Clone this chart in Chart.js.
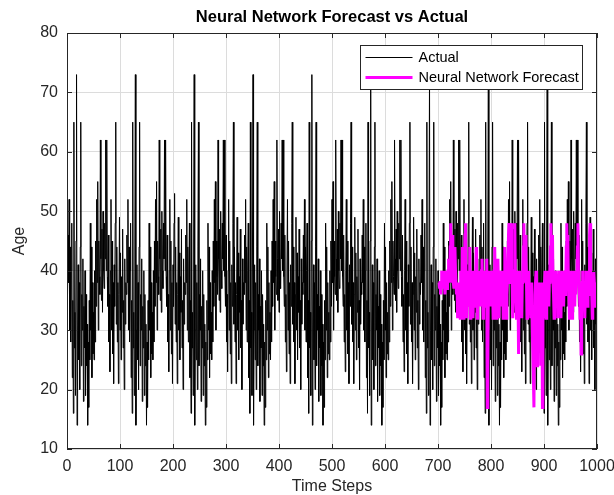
<!DOCTYPE html>
<html>
<head>
<meta charset="utf-8">
<script src="https://cdn.jsdelivr.net/npm/chart.js@4.4.0/dist/chart.umd.min.js"></script>
<style>
  html, body { margin: 0; padding: 0; background: #fff; }
</style>
</head>
<body>
<canvas id="myChart" width="614" height="495"></canvas>
<script>
// actual ages, 100 time steps per block
const actualA = [36,46,38,52,30,44,28,40,48,22,35,16,65,27,33,19,45,73,14,30,41,25,38,20,44,65,24,36,30,42,18,34,27,40,19,36,24,31,14,28,17,35,25,48,30,44,22,38,26,33,25,40,28,45,34,52,38,55,30,45,39,36,62,42,35,47,33,50,40,37,48,42,62,40,62,39,34,46,28,36,23,40,52,30,45,26,38,21,41,34,48,65,31,44,28,38,21,36,49,30];
const actualB = [43,25,39,33,47,27,35,20,42,31,38,36,46,38,52,30,44,28,40,48,22,35,16,65,27,33,19,45,73,14,30,41,25,38,20,44,65,24,36,30,42,18,34,27,40,19,36,24,31,14,28,17,35,25,48,30,44,22,38,26,33,25,40,28,45,34,52,38,55,30,45,39,36,62,42,35,47,33,50,40,37,48,42,62,40,62,39,34,46,28,36,23,40,52,30,45,26,38,21,41];
const actualC = [34,48,53,31,44,28,38,21,36,49,30,43,25,39,33,47,27,35,20,42,31,38,36,46,38,52,30,44,28,40,48,22,35,16,65,27,33,19,45,73,14,30,41,25,38,20,44,65,24,36,30,42,18,34,27,40,19,36,24,31,14,28,17,35,25,48,30,44,22,38,26,33,25,40,28,45,34,52,38,55,30,45,39,36,62,42,35,47,33,50,40,37,48,42,62,40,62,39,34,46];
const actualD = [28,36,23,40,52,30,45,26,38,21,41,34,48,65,31,44,28,38,21,36,49,30,43,25,39,33,47,27,35,20,42,31,38,36,46,38,52,30,44,28,40,48,22,35,16,65,27,33,19,45,73,14,30,41,25,38,20,44,65,24,36,30,42,18,34,27,40,19,36,24,31,14,28,17,35,25,48,30,44,22,38,26,33,25,40,28,45,34,52,38,55,30,45,39,36,62,42,35,47,33];
const actualE = [50,40,37,48,42,62,40,62,39,34,46,28,36,23,40,52,30,45,26,38,21,41,34,48,65,31,44,28,38,21,36,49,30,43,25,39,33,47,27,35,20,42,31,38,36,46,38,52,30,44,28,40,48,22,35,16,65,27,33,19,45,73,14,30,41,25,38,20,44,65,24,36,30,42,18,34,27,40,19,36,24,31,14,28,17,35,25,48,30,44,22,38,26,33,25,40,28,45,34,52];
const actualF = [38,55,30,45,39,36,62,42,35,47,33,50,40,37,48,42,62,40,62,39,34,46,28,36,23,40,52,30,45,26,38,21,41,34,48,65,31,44,28,38,21,36,49,30,43,25,39,33,47,27,35,20,42,31,38,36,46,38,52,30,44,28,40,48,22,35,16,65,27,33,19,45,73,14,30,41,25,38,20,44,65,24,36,30,42,18,34,27,40,19,36,24,31,14,28,17,35,25,48,30];
const actualG = [44,22,38,26,33,25,40,28,45,34,52,38,55,30,45,39,36,62,42,35,47,33,50,40,37,48,42,62,40,62,39,34,46,28,36,23,40,52,30,45,26,38,21,41,34,48,65,31,44,28,38,21,36,49,30,43,25,39,33,47,27,35,20,42,31,38,36,46,38,52,30,44,28,40,48,22,35,16,65,27,33,19,45,73,14,30,41,25,38,20,44,65,24,36,30,42,18,34,27,40];
const actualH = [19,36,24,31,14,28,17,35,25,48,30,44,22,38,26,33,25,40,28,45,34,52,38,55,30,45,39,36,62,42,35,47,33,50,40,37,48,42,62,40,62,39,34,46,28,36,23,40,52,30,45,26,38,21,41,34,48,65,31,44,28,38,21,36,49,30,43,25,39,33,47,27,35,20,42,31,38,36,46,38,52,30,44,28,40,48,22,35,16,65,27,33,19,45,73,14,30,41,25,38];
const actualI = [20,44,65,24,36,30,42,18,34,27,40,19,36,24,31,14,28,17,35,25,48,30,44,22,38,26,33,25,40,28,45,34,52,38,55,30,45,39,36,62,42,35,47,33,50,40,37,48,42,62,40,62,39,34,46,28,36,23,40,52,30,45,26,38,21,41,34,48,65,31,44,28,38,21,36,49,30,43,25,39,33,47,27,35,20,42,31,38,36,46,38,52,30,44,28,40,48,22,35,16];
const actualJ = [65,27,33,19,45,73,14,30,41,25,38,20,44,65,24,36,30,42,18,34,27,40,19,36,24,31,14,28,17,35,25,48,30,44,22,38,26,33,25,40,28,45,34,52,38,55,30,45,39,36,62,42,35,47,33,50,40,37,48,42,62,40,62,39,34,46,28,36,23,40,52,30,45,26,38,21,41,34,48,65,31,44,28,38,21,36,49,30,43,25,39,33,47,27,35,20,42,31,38,36];

// network forecast, time steps 701..1000
const forecastStart = 700;
const forecast = [
  38,38,37,38,36,38,40,38,37,38, 40,38,36,38,40,38,37,38,40,42,
  40,38,44,48,40,38,46,42,38,37, 38,44,40,38,36,38,32,38,36,34,
  38,32,40,38,36,44,38,32,36,40, 46,48,38,32,36,40,38,34,38,44,
  32,38,36,40,38,32,36,38,40,34, 38,44,40,32,38,36,40,38,34,36,
  38,40,42,38,32,36,40,38,34,38, 36,42,17,24,38,40,36,38,34,38,
  40,36,38,32,38,40,44,38,36,32, 38,36,42,38,32,38,40,36,38,34,
  38,40,32,36,38,44,40,38,32,36, 38,40,46,48,42,38,46,48,40,38,
  32,36,38,40,48,38,36,32,38,40, 36,26,38,40,34,38,36,32,38,40,
  44,48,40,38,46,42,38,32,36,38, 40,36,38,34,32,38,36,30,26,22,
  17,32,36,38,40,36,24,38,32,36, 38,36,32,24,38,36,17,38,32,36,
  38,40,36,32,38,40,36,38,34,38, 40,44,48,40,38,46,38,36,32,38,
  36,40,38,34,38,32,36,40,38,36, 38,32,38,40,36,38,34,38,40,36,
  38,44,48,40,46,38,36,32,38,40, 36,38,32,38,40,36,38,34,38,36,
  40,38,44,48,40,38,36,32,38,26, 36,38,40,34,38,36,32,38,40,36,
  38,34,40,38,36,46,48,40,38,36, 32,38,36,40,38,36,34,38,36,38
];

const chartTitle = 'Neural Network Forecast vs Actual';
const FONT = '"Liberation Sans", Arial, sans-serif';
const AXIS = '#262626';

const actual = [].concat(actualA, actualB, actualC, actualD, actualE, actualF, actualG, actualH, actualI, actualJ);
const actualPts = actual.map((v, i) => ({ x: i + 1, y: v }));
const forecastPts = forecast.map((v, i) => ({ x: forecastStart + i + 1, y: v }));

// box, inward ticks, title over the plot and the legend inside it
const matlabBox = {
  id: 'matlabBox',
  afterDatasetsDraw(chart) {
    const { ctx, chartArea: a, scales } = chart;
    ctx.save();
    ctx.strokeStyle = AXIS;
    ctx.lineWidth = 1;
    ctx.strokeRect(Math.round(a.left) + 0.5, Math.round(a.top) + 0.5, Math.round(a.right - a.left) - 1, Math.round(a.bottom - a.top) - 1);
    ctx.beginPath();
    scales.x.ticks.forEach(t => {
      const px = Math.round(scales.x.getPixelForValue(t.value)) + 0.5;
      ctx.moveTo(px, a.bottom); ctx.lineTo(px, a.bottom - 5);
      ctx.moveTo(px, a.top); ctx.lineTo(px, a.top + 5);
    });
    scales.y.ticks.forEach(t => {
      const py = Math.round(scales.y.getPixelForValue(t.value)) + 0.5;
      ctx.moveTo(a.left, py); ctx.lineTo(a.left + 5, py);
      ctx.moveTo(a.right, py); ctx.lineTo(a.right - 5, py);
    });
    ctx.stroke();

    // title
    ctx.fillStyle = '#000';
    ctx.font = 'bold 16.5px ' + FONT;
    ctx.textAlign = 'center';
    ctx.textBaseline = 'middle';
    ctx.fillText(chartTitle, (a.left + a.right) / 2, 17);

    // legend
    const lw = 222, lh = 44;
    const lx = Math.round(a.right) - 15 - lw + 0.5, ly = Math.round(a.top) + 12 + 0.5;
    ctx.fillStyle = '#fff';
    ctx.fillRect(lx, ly, lw, lh);
    ctx.strokeStyle = AXIS;
    ctx.lineWidth = 1;
    ctx.strokeRect(lx, ly, lw, lh);
    ctx.font = '14.5px ' + FONT;
    ctx.textAlign = 'left';
    chart.data.datasets.forEach((ds, i) => {
      const y = ly + 12 + i * 20;
      ctx.strokeStyle = ds.borderColor;
      ctx.lineWidth = ds.borderWidth;
      ctx.beginPath();
      ctx.moveTo(lx + 5, y); ctx.lineTo(lx + 52, y);
      ctx.stroke();
      ctx.fillStyle = '#000';
      ctx.fillText(ds.label, lx + 58, y);
    });
    ctx.restore();
  }
};

new Chart(document.getElementById('myChart'), {
  type: 'line',
  data: {
    datasets: [{
      label: 'Actual',
      data: actualPts,
      borderColor: '#000000',
      borderWidth: 1,
      pointRadius: 0,
      order: 1
    }, {
      label: 'Neural Network Forecast',
      data: forecastPts,
      borderColor: '#ff00ff',
      borderWidth: 3,
      pointRadius: 0,
      order: 0
    }]
  },
  options: {
    responsive: false,
    animation: false,
    events: [],
    layout: { padding: { left: 0, right: 17, top: 33, bottom: 0 } },
    plugins: {
      legend: { display: false },
      tooltip: { enabled: false },
      title: { display: false }
    },
    scales: {
      x: {
        type: 'linear',
        min: 0, max: 1000,
        ticks: { stepSize: 100, color: AXIS, font: { family: FONT, size: 16 }, padding: 8, maxRotation: 0, callback: v => String(v) },
        grid: { color: '#dcdcdc', drawTicks: false },
        border: { display: false },
        title: { display: true, text: 'Time Steps', color: AXIS, font: { family: FONT, size: 16, lineHeight: 1 }, padding: 0 },
        afterFit: s => { s.height = 46; s.paddingLeft = 0; s.paddingRight = 0; }
      },
      y: {
        min: 10, max: 80,
        ticks: { stepSize: 10, color: AXIS, font: { family: FONT, size: 16 }, padding: 9 },
        grid: { color: '#dcdcdc', drawTicks: false },
        border: { display: false },
        title: { display: true, text: 'Age', color: AXIS, font: { family: FONT, size: 16 }, padding: { top: 10, bottom: 0 } },
        afterFit: s => { s.width = 67; }
      }
    }
  },
  plugins: [matlabBox]
});
</script>
</body>
</html>
